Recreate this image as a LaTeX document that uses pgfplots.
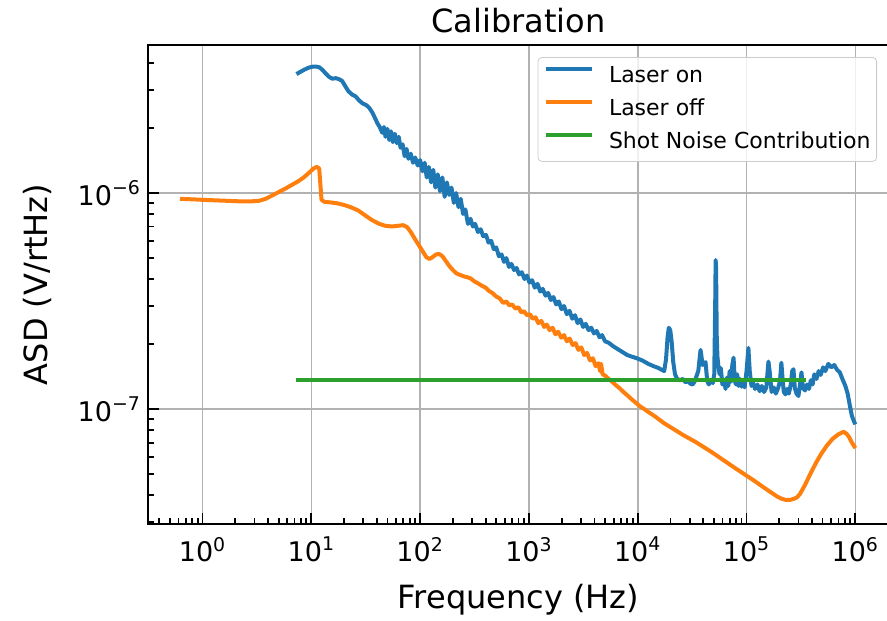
\documentclass[border=0pt]{standalone}
\usepackage{fontspec}
\setmainfont{DejaVu Sans}
\usepackage{pgfplots}
\pgfplotsset{compat=1.18}
\definecolor{tabblue}{HTML}{1F77B4}
\definecolor{taborange}{HTML}{FF7F0E}
\definecolor{tabgreen}{HTML}{2CA02C}
\begin{document}
\begin{tikzpicture}
\begin{axis}[name=ax, scale only axis, width=370.5pt, height=239.5pt,
 xmode=log, ymode=log, xmin=0.315, xmax=2.04e6, ymin=2.94e-8, ymax=4.84e-6,
 xtick={1,10,100,1000,10000,100000,1000000},
 xticklabels={10\textsuperscript{0},10\textsuperscript{1},10\textsuperscript{2},10\textsuperscript{3},10\textsuperscript{4},10\textsuperscript{5},10\textsuperscript{6}},
 ytick={1e-7,1e-6},
 yticklabels={10\textsuperscript{−7},10\textsuperscript{−6}},
 minor xtick={0.4,0.5,0.6,0.7,0.8,0.9,2,3,4,5,6,7,8,9,20,30,40,50,60,70,80,90,200,300,400,500,600,700,800,900,2000,3000,4000,5000,6000,7000,8000,9000,20000,30000,40000,50000,60000,70000,80000,90000,200000,300000,400000,500000,600000,700000,800000,900000},
 minor ytick={3e-8,4e-8,5e-8,6e-8,7e-8,8e-8,9e-8,2e-7,3e-7,4e-7,5e-7,6e-7,7e-7,8e-7,9e-7,2e-6,3e-6,4e-6},
 tick align=inside, xtick pos=left, ytick pos=left,
 major tick length=5.5pt, minor tick length=3pt,
 every tick/.append style={black, line width=0.9pt},
 grid=major, major grid style={color=black!30, line width=0.8pt},
 axis line style={line width=1pt},
 ticklabel style={font=\fontsize{13.5}{16}\selectfont},
 xticklabel style={yshift=-3pt},
 every axis title shift=0pt,
 title=Calibration,
 title style={font=\fontsize{16}{19}\selectfont, at={(axis description cs:0.5,1.052)}, anchor=center},
 xlabel={Frequency (Hz)}, ylabel={ASD (V/rtHz)},
 xlabel style={font=\fontsize{16}{19}\selectfont, at={(axis description cs:0.5,-0.1587)}, anchor=center},
 ylabel style={font=\fontsize{16}{19}\selectfont, at={(axis description cs:-0.1498,0.5)}, anchor=center},
 legend cell align=left,
 legend style={at={(axis description cs:1,1)}, anchor=north east, xshift=-6pt, yshift=-6pt,
   draw=black!20, rounded corners=2pt, fill=white, fill opacity=0.8, text opacity=1,
   font=\fontsize{11}{13}\selectfont, inner xsep=3pt, inner ysep=4pt, row sep=5.5pt,
   nodes={inner sep=0pt, text height=8.3pt, text depth=2.7pt},
   /tikz/every odd column/.append style={column sep=7.5pt}},
 legend image code/.code={\draw[#1, line width=2pt] (0pt,3.6pt) -- (23pt,3.6pt);},
]
\addplot[tabblue, line width=2pt, line join=round] coordinates {
(7.3,3.55e-6)(7.8,3.62e-6)(8.6,3.72e-6)(9.4,3.80e-6)(10.2,3.84e-6)(11.0,3.85e-6)(11.8,3.82e-6)
(12.6,3.72e-6)(13.5,3.58e-6)(14.5,3.45e-6)(15.6,3.38e-6)(16.8,3.40e-6)(18.0,3.36e-6)(19.2,3.30e-6)
(20.5,3.12e-6)(22.0,2.95e-6)(23.8,2.85e-6)(25.5,2.80e-6)(27.5,2.68e-6)(29.5,2.60e-6)(32.0,2.55e-6)
(34.0,2.48e-6)(36.3,2.36e-6)(38.5,2.22e-6)(40.5,2.10e-6)(42.5,2.02e-6)(44.8,1.90e-6)(46.5,2.02e-6)
(48.0,1.82e-6)(50.0,1.98e-6)(52.0,1.76e-6)(54.0,1.93e-6)(56.0,1.72e-6)(58.5,1.88e-6)(61.0,1.70e-6)
(63.5,1.82e-6)(66.0,1.62e-6)(69.0,1.68e-6)(72.0,1.48e-6)(75.0,1.60e-6)(78.0,1.44e-6)(82.0,1.52e-6)
(86.0,1.38e-6)(90.0,1.46e-6)(95.0,1.34e-6)(100,1.42e-6)(105,1.26e-6)(110,1.38e-6)(115,1.18e-6)
(120,1.32e-6)(126,1.12e-6)(132,1.28e-6)(138,1.06e-6)(145,1.22e-6)(152,1.02e-6)(160,1.18e-6)
(168,0.96e-6)(176,1.12e-6)(185,0.98e-6)(194,1.06e-6)(204,0.90e-6)(214,1.00e-6)(225,0.86e-6)
(236,0.94e-6)(248,0.80e-6)(260,0.84e-6)(275,0.72e-6)(290,0.76e-6)(305,0.70e-6)(320,0.72e-6)
(340,0.66e-6)(360,0.68e-6)(380,0.63e-6)(403,0.64e-6)(425,0.59e-6)(450,0.60e-6)(475,0.55e-6)
(500,0.56e-6)(530,0.51e-6)(560,0.52e-6)(590,0.48e-6)(620,0.50e-6)(656,0.455e-6)(690,0.47e-6)
(730,0.44e-6)(770,0.45e-6)(810,0.42e-6)(860,0.43e-6)(910,0.40e-6)(960,0.415e-6)(1010,0.385e-6)
(1070,0.395e-6)(1130,0.365e-6)(1200,0.38e-6)(1270,0.35e-6)(1340,0.36e-6)(1420,0.335e-6)
(1500,0.345e-6)(1590,0.32e-6)(1680,0.33e-6)(1780,0.305e-6)(1880,0.315e-6)(1990,0.29e-6)
(2100,0.30e-6)(2230,0.275e-6)(2360,0.285e-6)(2500,0.262e-6)(2650,0.272e-6)(2800,0.25e-6)
(2970,0.26e-6)(3150,0.24e-6)(3330,0.248e-6)(3530,0.232e-6)(3740,0.238e-6)(3960,0.224e-6)
(4200,0.23e-6)(4450,0.215e-6)(4700,0.22e-6)(5000,0.206e-6)(5400,0.203e-6)(5900,0.196e-6)
(6500,0.19e-6)(7200,0.184e-6)(8000,0.178e-6)(8800,0.175e-6)(9800,0.172e-6)(11000,0.168e-6)
(12500,0.162e-6)(14000,0.158e-6)(15500,0.155e-6)(16600,0.152e-6)(17500,0.150e-6)(18200,0.170e-6)
(18800,0.215e-6)(19300,0.238e-6)(19900,0.232e-6)(20500,0.205e-6)(21200,0.165e-6)(22000,0.145e-6)
(23000,0.138e-6)(24500,0.136e-6)(26000,0.138e-6)(27500,0.133e-6)(29000,0.135e-6)(30500,0.131e-6)
(32000,0.130e-6)(33500,0.135e-6)(36000,0.150e-6)(37800,0.188e-6)(39500,0.160e-6)(42000,0.165e-6)
(43500,0.135e-6)(45000,0.130e-6)(47000,0.136e-6)(49000,0.132e-6)(50500,0.145e-6)(51500,0.30e-6)
(52000,0.49e-6)(52500,0.45e-6)(53200,0.22e-6)(54000,0.175e-6)(55000,0.16e-6)(56500,0.145e-6)
(58000,0.155e-6)(60000,0.130e-6)(62000,0.135e-6)(64200,0.124e-6)(66000,0.140e-6)(68000,0.128e-6)
(70000,0.150e-6)(72000,0.134e-6)(74000,0.16e-6)(76000,0.173e-6)(78000,0.135e-6)(80000,0.130e-6)
(82000,0.145e-6)(84500,0.128e-6)(87000,0.138e-6)(90000,0.127e-6)(93000,0.133e-6)(96000,0.126e-6)
(100000,0.150e-6)(104000,0.192e-6)(107000,0.150e-6)(111000,0.128e-6)(115000,0.132e-6)
(120000,0.124e-6)(126000,0.130e-6)(132000,0.121e-6)(138000,0.128e-6)(145000,0.120e-6)
(152000,0.126e-6)(159000,0.166e-6)(163000,0.150e-6)(170000,0.120e-6)(178000,0.126e-6)
(186000,0.118e-6)(195000,0.125e-6)(203000,0.135e-6)(209000,0.164e-6)(214000,0.140e-6)
(220000,0.120e-6)(228000,0.117e-6)(236000,0.124e-6)(245000,0.118e-6)(255000,0.130e-6)
(263000,0.150e-6)(270000,0.153e-6)(278000,0.125e-6)(288000,0.118e-6)(300000,0.115e-6)
(310000,0.130e-6)(320000,0.148e-6)(330000,0.125e-6)(345000,0.122e-6)(360000,0.130e-6)
(375000,0.124e-6)(390000,0.136e-6)(405000,0.130e-6)(420000,0.145e-6)(440000,0.138e-6)
(460000,0.150e-6)(480000,0.144e-6)(505000,0.156e-6)(530000,0.150e-6)(565000,0.162e-6)
(600000,0.156e-6)(640000,0.160e-6)(680000,0.152e-6)(720000,0.148e-6)(760000,0.138e-6)
(810000,0.128e-6)(850000,0.118e-6)(890000,0.104e-6)(930000,0.093e-6)(970000,0.088e-6)(1000000,0.085e-6)
};
\addlegendentry{Laser on}
\addplot[taborange, line width=2pt, line join=round] coordinates {
(0.62,9.4e-7)(0.8,9.35e-7)(1.0,9.3e-7)(1.3,9.25e-7)(1.7,9.2e-7)(2.2,9.15e-7)(2.8,9.15e-7)
(3.3,9.2e-7)(3.8,9.4e-7)(4.3,9.7e-7)(5.0,1.01e-6)(5.8,1.05e-6)(6.6,1.09e-6)(7.5,1.13e-6)
(8.5,1.18e-6)(9.5,1.24e-6)(10.5,1.30e-6)(11.2,1.32e-6)(11.8,1.30e-6)(12.4,9.3e-7)(13.2,9.1e-7)
(15,9.05e-7)(17.5,8.95e-7)(20,8.8e-7)(23,8.6e-7)(27,8.3e-7)(31,7.9e-7)(36,7.5e-7)(42,7.2e-7)
(48,7.05e-7)(55,7.0e-7)(62,7.05e-7)(70,7.1e-7)(76,6.95e-7)(82,6.6e-7)(90,6.1e-7)(98,5.7e-7)
(106,5.35e-7)(114,5.05e-7)(122,4.95e-7)(130,5.05e-7)(140,5.2e-7)(150,5.22e-7)(160,5.1e-7)
(172,4.85e-7)(185,4.6e-7)(200,4.4e-7)(215,4.25e-7)(232,4.18e-7)(250,4.12e-7)(270,4.08e-7)
(290,4.03e-7)(315,3.9e-7)(340,3.82e-7)(370,3.72e-7)(400,3.65e-7)(430,3.52e-7)(460,3.45e-7)
(500,3.32e-7)(540,3.25e-7)(580,3.10e-7)(620,3.15e-7)(660,3.02e-7)(700,3.05e-7)(750,2.92e-7)
(800,2.96e-7)(850,2.80e-7)(900,2.84e-7)(960,2.72e-7)(1020,2.75e-7)(1080,2.62e-7)(1150,2.66e-7)
(1220,2.50e-7)(1300,2.56e-7)(1380,2.40e-7)(1460,2.46e-7)(1550,2.32e-7)(1650,2.38e-7)
(1750,2.22e-7)(1860,2.28e-7)(1980,2.14e-7)(2100,2.20e-7)(2230,2.06e-7)(2370,2.12e-7)
(2520,1.98e-7)(2680,2.02e-7)(2850,1.88e-7)(3030,1.93e-7)(3220,1.78e-7)(3420,1.82e-7)
(3640,1.68e-7)(3870,1.72e-7)(4100,1.58e-7)(4350,1.63e-7)(4500,1.50e-7)(4600,1.62e-7)
(4750,1.45e-7)(5000,1.43e-7)(5400,1.38e-7)(5800,1.34e-7)(6300,1.29e-7)(6800,1.25e-7)
(7400,1.20e-7)(8000,1.16e-7)(8800,1.11e-7)(9600,1.07e-7)(10500,1.03e-7)(11500,1.0e-7)
(12500,9.7e-8)(14000,9.35e-8)(15500,9.0e-8)(17500,8.6e-8)(20000,8.25e-8)(23000,7.9e-8)
(26000,7.6e-8)(30000,7.3e-8)(34000,7.05e-8)(39000,6.75e-8)(45000,6.45e-8)(52000,6.15e-8)
(60000,5.85e-8)(70000,5.55e-8)(80000,5.3e-8)(90000,5.1e-8)(100000,4.92e-8)(115000,4.7e-8)
(130000,4.5e-8)(150000,4.28e-8)(170000,4.1e-8)(190000,3.95e-8)(210000,3.85e-8)(230000,3.80e-8)
(250000,3.80e-8)(270000,3.84e-8)(290000,3.90e-8)(310000,4.05e-8)(340000,4.4e-8)(370000,4.8e-8)
(400000,5.2e-8)(440000,5.7e-8)(490000,6.25e-8)(550000,6.8e-8)(620000,7.3e-8)(700000,7.65e-8)
(780000,7.85e-8)(830000,7.7e-8)(880000,7.4e-8)(930000,7.0e-8)(1000000,6.6e-8)
};
\addlegendentry{Laser off}
\addplot[tabgreen, line width=2pt] coordinates {(7.3,1.36e-7)(355000,1.36e-7)};
\addlegendentry{Shot Noise Contribution}
\end{axis}
\pgfresetboundingbox
\path[use as bounding box] (ax.south west) ++(-74pt,-48pt) rectangle ++(443.5pt,310pt);
\end{tikzpicture}
\end{document}
